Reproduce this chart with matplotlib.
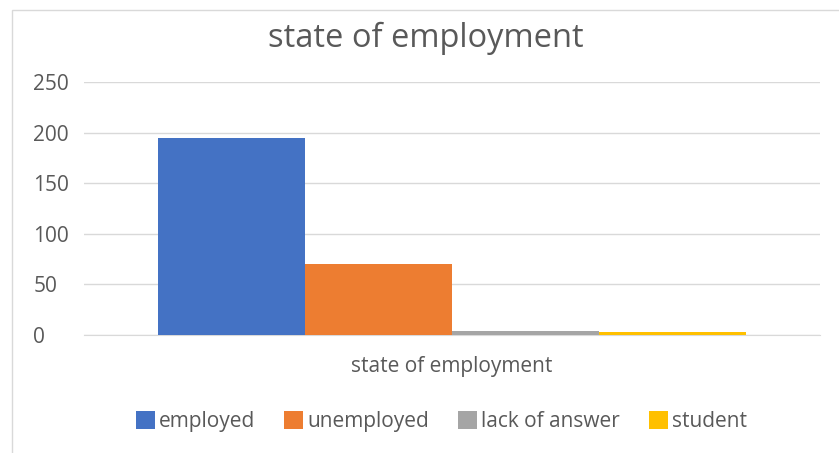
import numpy as np
import matplotlib.pyplot as plt
from matplotlib.patches import Rectangle

plt.rcParams['font.family'] = ['Open Sans', 'DejaVu Sans']

# data
categories = ['employed', 'unemployed', 'lack of answer', 'student']
values = [195, 70, 4, 3]
colors = ['#4472C4', '#ED7D31', '#A5A5A5', '#FFC000']
yticks = [0, 50, 100, 150, 200, 250]

fig = plt.figure(figsize=(8.39, 4.53), dpi=100)
ax = fig.add_axes([84 / 839, 1 - 335 / 453, (820 - 84) / 839, (335 - 82) / 453])

# outer frame like the excel chart border
fig.patches.append(Rectangle((12 / 839, -0.1), 1.2, 1 - 10 / 453 + 0.1,
                             transform=fig.transFigure, fill=False,
                             edgecolor='#d9d9d9', linewidth=1))

w = 0.2
x0 = -1.5 * w
for i, (c, v, col) in enumerate(zip(categories, values, colors)):
    ax.bar(x0 + i * w, v, width=w, color=col, label=c, zorder=3)

ax.set_xlim(-0.5, 0.5)
ax.set_ylim(0, 250)
ax.set_yticks(yticks)
ax.set_xticks([0])
ax.set_xticklabels(['state of employment'])
ax.tick_params(axis='both', length=0, labelsize=15, labelcolor='#595959')
ax.tick_params(axis='x', pad=15)
ax.tick_params(axis='y', pad=36.5)
for lab in ax.get_yticklabels():
    lab.set_horizontalalignment('left')
ax.grid(axis='y', color='#d9d9d9', linewidth=1, zorder=0)
for s in ['top', 'right', 'left']:
    ax.spines[s].set_visible(False)
ax.spines['bottom'].set_color('#d9d9d9')

fig.text(0.508, 0.916, 'state of employment', ha='center', va='center',
         fontsize=23.5, color='#595959')

fig.legend(loc='center', bbox_to_anchor=(0.526, 0.069), ncol=4, frameon=False,
           fontsize=15, labelcolor='#595959', handlelength=0.9, handleheight=0.9,
           handletextpad=0.2, columnspacing=1.4)

fig.savefig('out.png', dpi=100)
